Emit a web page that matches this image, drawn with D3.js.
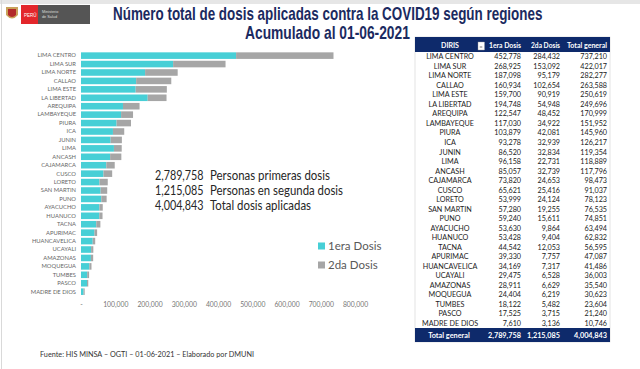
<!DOCTYPE html>
<html><head><meta charset="utf-8">
<script src="https://cdn.jsdelivr.net/npm/d3@7"></script>
<style>body{margin:0;background:#fff}svg{display:block}</style>
</head><body><svg id="c" width="640" height="369"></svg>
<script>
const regions = ["LIMA CENTRO","LIMA SUR","LIMA NORTE","CALLAO","LIMA ESTE","LA LIBERTAD","AREQUIPA","LAMBAYEQUE","PIURA","ICA","JUNIN","LIMA","ANCASH","CAJAMARCA","CUSCO","LORETO","SAN MARTIN","PUNO","AYACUCHO","HUANUCO","TACNA","APURIMAC","HUANCAVELICA","UCAYALI","AMAZONAS","MOQUEGUA","TUMBES","PASCO","MADRE DE DIOS"];
const dosis1 = [452778,268925,187098,160934,159700,194748,122547,117030,103879,93278,86520,96158,85057,73820,65621,53999,57280,59240,53630,53428,44542,39330,34169,29475,28911,24404,18122,17525,7610];
const dosis2 = [284432,153092,95179,102654,90919,54948,48452,34922,42081,32939,32834,22731,32739,24653,25416,24124,19255,15611,9864,9404,12053,7757,7317,6528,6629,6219,5482,3715,3136];
const totals = [737210,422017,282277,263588,250619,249696,170999,151952,145960,126217,119354,118889,117796,98473,91037,78123,76535,74851,63494,62832,56595,47087,41486,36003,35540,30623,23604,21240,10746];
const seriesNames = ["1era Dosis","2da Dosis"];
const xTicks = [0,100000,200000,300000,400000,500000,600000,700000,800000];
const tableHeaders = ["DIRIS","1era Dosis","2da Dosis","Total general"];
const totalRow = ["Total general","2,789,758","1,215,085","4,004,843"];
const summaryNums = ["2,789,758","1,215,085","4,004,843"];
const summaryTexts = ["Personas primeras dosis","Personas en segunda dosis","Total dosis aplicadas"];
const titleLines = ["Número total de dosis aplicadas contra la COVID19 según regiones","Acumulado  al 01-06-2021"];
const footer = "Fuente: HIS MINSA – OGTI – 01-06-2021 – Elaborado por DMUNI";

const svg = d3.select("#c");
const C1 = "#47CFD6", C2 = "#A6A6A6", NAVY = "#0E2A6B";
const fmt = d3.format(",");

// frame edges
svg.append("rect").attr("x",0).attr("y",0).attr("width",640).attr("height",4).attr("fill","#e6e6e6");
svg.append("line").attr("x1",1.5).attr("x2",1.5).attr("y1",0).attr("y2",369).attr("stroke","#d9d9d9");

// logo
const lg = svg.append("g");
lg.append("path").attr("d","M6,7 L18,7 L18,15 Q12,22 6,15 Z").attr("fill","#c9a25a");
lg.append("path").attr("d","M8,9 L16,9 L16,15 Q12,19 8,15 Z").attr("fill","#b22a2a");
lg.append("rect").attr("x",21).attr("y",5).attr("width",17).attr("height",19).attr("fill","#e3262b");
lg.append("rect").attr("x",38).attr("y",5).attr("width",52).attr("height",19).attr("fill","#555");
lg.append("text").attr("x",24).attr("y",17).attr("font-size",4.5).attr("fill","#fff").attr("font-family","Liberation Sans").text("PERÚ");
lg.append("text").attr("x",42).attr("y",13).attr("font-size",3.8).attr("fill","#ddd").attr("font-family","Liberation Sans").text("Ministerio");
lg.append("text").attr("x",42).attr("y",18).attr("font-size",3.8).attr("fill","#ddd").attr("font-family","Liberation Sans").text("de Salud");

// title (horizontally condensed via transform)
function fitText(str, x0, y0, target){
  const t = svg.append("text").attr("x",0).attr("y",0)
    .attr("font-family","Liberation Sans").attr("font-weight","bold").attr("font-size",17.5)
    .attr("fill","#1B2A60").text(str);
  const w = t.node().getComputedTextLength();
  t.attr("transform",`translate(${x0},${y0}) scale(${target/w},1)`);
}
fitText(titleLines[0],113,20,430);
fitText(titleLines[1],245,39,165);

// bar chart
const x = d3.scaleLinear().domain([0,800000]).range([81,355]);
const y = d3.scaleBand().domain(regions).range([51.5,295.8]).paddingInner(0.22).paddingOuter(0.1);
const stack = d3.stack().keys([0,1]).value((d,k)=>d[k]);
const rows = regions.map((r,i)=>{const o=[dosis1[i],dosis2[i]]; o.region=r; return o;});
const st = stack(rows);
const cols=[C1,C2];
st.forEach((s,k)=>{
  svg.append("g").selectAll("rect").data(s).join("rect")
    .attr("x",d=>x(d[0])).attr("width",d=>x(d[1])-x(d[0]))
    .attr("y",d=>y(d.data.region)).attr("height",y.bandwidth()).attr("fill",cols[k]);
});
const yAxis = d3.axisLeft(y).tickSize(0).tickPadding(5);
const ya = svg.append("g").attr("transform","translate(81,0)").call(yAxis);
ya.select(".domain").remove();
ya.selectAll("text").attr("font-family","Lato, Open Sans").attr("font-size",5.8).attr("fill","#666");
const xAxis = d3.axisBottom(x).tickValues(xTicks).tickSize(0).tickPadding(0).tickFormat(d=>d===0?"-":fmt(d));
const xa = svg.append("g").attr("transform","translate(0,302)").call(xAxis);
xa.select(".domain").remove();
xa.selectAll("text").attr("font-family","Lato, Open Sans").attr("font-size",6.8).attr("fill","#777");

// legend
seriesNames.forEach((n,i)=>{
  const yy = 246 + i*19;
  svg.append("rect").attr("x",318).attr("y",yy-3.5).attr("width",7).attr("height",7).attr("fill",cols[i]);
  svg.append("text").attr("x",328).attr("y",yy+4).attr("font-family","Lato, Open Sans").attr("font-size",11.5).attr("fill","#595959").text(n);
});

// summary text
const sumLens=[120,133,101];
summaryNums.forEach((n,i)=>{
  const yy = 179.5 + i*15;
  svg.append("text").attr("x",155).attr("y",yy).attr("textLength",48.5).attr("lengthAdjust","spacingAndGlyphs")
    .attr("font-family","Lato, Open Sans").attr("font-size",12.5).attr("fill","#262626").text(n);
  svg.append("text").attr("x",210).attr("y",yy).attr("textLength",sumLens[i]).attr("lengthAdjust","spacingAndGlyphs")
    .attr("font-family","Lato, Open Sans").attr("font-size",12.5).attr("fill","#262626").text(summaryTexts[i]);
});

// footer
svg.append("text").attr("x",40).attr("y",357).attr("textLength",214).attr("lengthAdjust","spacingAndGlyphs")
  .attr("font-family","Lato, Open Sans").attr("font-size",7.8).attr("fill","#333").text(footer);

// table
const tx0=415, tx1=610;
const ty = d3.scaleBand().domain(regions).range([52,328]);
svg.append("rect").attr("x",tx0).attr("y",37).attr("width",tx1-tx0).attr("height",305).attr("fill","none").attr("stroke","#d0d0d0").attr("stroke-width",0.6);
svg.append("rect").attr("x",tx0).attr("y",37).attr("width",tx1-tx0).attr("height",15).attr("fill",NAVY);
svg.append("rect").attr("x",tx0).attr("y",328).attr("width",tx1-tx0).attr("height",14).attr("fill",NAVY);
svg.append("rect").attr("x",478).attr("y",42).attr("width",6.5).attr("height",8).attr("fill","#fff").attr("stroke","#999").attr("stroke-width",0.4);
svg.append("path").attr("d","M479.5,47 L482.5,47 M481,46 L481,48").attr("stroke","#666").attr("stroke-width",0.5);
const colX=[450,521,560,607], colA=["middle","end","end","end"];
const hdrLens=[18,32,29,40];
const tf="Lato, Open Sans";
tableHeaders.forEach((h,j)=>{
  svg.append("text").attr("x",colX[j]).attr("y",47.5).attr("text-anchor",colA[j])
    .attr("textLength",hdrLens[j]).attr("lengthAdjust","spacingAndGlyphs")
    .attr("font-family",tf).attr("font-weight","bold").attr("font-size",7.2).attr("fill","#fff").text(h);
});
const tg = svg.append("g").attr("font-family",tf).attr("font-size",7.2).attr("fill","#222");
regions.forEach((r,i)=>{
  const yy = ty(r)+ty.bandwidth()/2+2.6;
  const vals=[r,fmt(dosis1[i]),fmt(dosis2[i]),fmt(totals[i])];
  vals.forEach((v,j)=>tg.append("text").attr("x",colX[j]).attr("y",yy).attr("text-anchor",colA[j]).text(v));
});
totalRow.forEach((v,j)=>{
  svg.append("text").attr("x",j===0?449:colX[j]).attr("y",338).attr("text-anchor",colA[j])
    .attr("font-family",tf).attr("font-weight","bold").attr("font-size",7.3).attr("fill","#fff").text(v);
});
</script></body></html>
